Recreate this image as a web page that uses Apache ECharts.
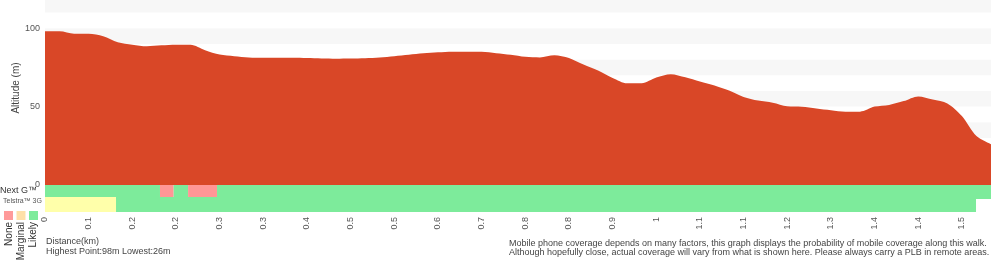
<!DOCTYPE html>
<html>
<head>
<meta charset="utf-8">
<script src="https://cdn.jsdelivr.net/npm/echarts@6/dist/echarts.min.js"></script>
<style>
html,body{margin:0;padding:0;background:#fff;}
#c{width:1000px;height:260px;}
</style>
</head>
<body>
<div id="c"></div>
<script>
// Distance tick labels (km), shown every 3rd profile point
const tickLabels = ['0','0.1','0.2','0.2','0.3','0.3','0.4','0.5','0.5','0.6','0.7','0.8','0.8','0.9','1','1.1','1.1','1.2','1.3','1.4','1.4','1.5'];
// Altitude profile (m)
const altitude = [98,98,96.5,96.5,94.9,91.1,89.5,88.5,89.1,89.5,
  89.4,86.0,83.2,82.2,81.4,81.2,81.2,81.2,81.0,80.7,
  80.6,80.7,80.9,81.3,82.2,83.1,84.0,84.6,85,85,
  85,84.1,83.1,81.8,81.4,82.8,81.0,76.8,73.0,68.3,
  64.9,64.9,68.5,70.7,68.7,66.0,63.5,60.2,56.2,53.9,
  52.5,50.2,49.9,48.8,47.7,46.8,46.8,50.0,51.1,53.5,
  56.5,54.5,52.0,44.0,31.2,26];
// Coverage segments [startIndex, endIndex, level]
const nextG = [[0,7.9,'Likely'],[7.9,8.84,'None'],[8.84,9.83,'Likely'],[9.83,11.82,'None'],[11.82,65,'Likely']];
const telstra3G = [[0,4.88,'Marginal'],[4.88,63.97,'Likely']];
const levels = ['None','Marginal','Likely'];

const bandColors = {None:'#ff9696', Marginal:'#ffffaa', Likely:'#7deb9b'};
const legendColors = {None:'#ff9a9a', Marginal:'#ffe0a8', Likely:'#7deb9b'};
const FONT = 'Liberation Sans, Arial, Helvetica, sans-serif';

const chart = echarts.init(document.getElementById('c'), null, {renderer:'canvas'});
const lastIdx = altitude.length - 1;
const step = 3;
const hi = Math.max(...altitude), lo = Math.min(...altitude);

function rowRender(top, bottom) {
  return function(params, api) {
    const s = api.value(0), e = api.value(1), lvl = levels[api.value(2)];
    const p1 = api.coord([s, top]);
    const p2 = api.coord([e, bottom]);
    return {type:'rect', shape:{x:p1[0], y:p1[1], width:p2[0]-p1[0], height:p2[1]-p1[1]},
      style:{fill: bandColors[lvl]}};
  };
}

const xBase = {type:'value', min:0, max:lastIdx, interval:step,
  axisLine:{show:false}, axisTick:{show:false}, splitLine:{show:false}};

const legendGraphics = [];
levels.forEach((l, i) => {
  legendGraphics.push({type:'rect', shape:{x:4+i*12.5, y:211, width:9, height:9}, style:{fill:legendColors[l]}});
  legendGraphics.push({type:'text', x:9+i*12, y:222, rotation:Math.PI/2,
    style:{text:l, font:'10px '+FONT, fill:'#333', align:'right', verticalAlign:'middle'}});
});

chart.setOption({
  animation:false,
  grid:[
    {left:45, right:9, top:0, height:185},
    {left:45, right:9, top:185, height:27}
  ],
  xAxis:[
    Object.assign({}, xBase, {gridIndex:0, axisLabel:{show:false}}),
    Object.assign({}, xBase, {gridIndex:1, axisLabel:{show:true, rotate:90, margin:5, fontSize:9, color:'#555', fontFamily:FONT,
      formatter:function(v){ const k = v/step; return (Number.isInteger(k) && tickLabels[k]!==undefined) ? tickLabels[k] : ''; }}})
  ],
  yAxis:[
    {type:'value', gridIndex:0, min:0, max:hi+20, interval:10,
      axisLine:{show:false}, axisTick:{show:false}, splitLine:{show:false},
      splitArea:{show:true, areaStyle:{color:['#ffffff','#f7f7f7']}},
      axisLabel:{fontSize:9, color:'#555', margin:5, fontFamily:FONT,
        formatter:function(v){ return v%50===0 ? String(v) : ''; }}},
    {type:'value', gridIndex:1, min:0, max:27, inverse:true, show:false}
  ],
  series:[
    {type:'line', xAxisIndex:0, yAxisIndex:0, data:altitude.map((a,i)=>[i,a]),
      symbol:'none', smooth:0.3, lineStyle:{width:0}, areaStyle:{color:'#d94727', opacity:1}, z:3},
    {type:'custom', xAxisIndex:1, yAxisIndex:1, renderItem:rowRender(0,14),
      data:nextG.map(d=>[d[0],d[1],levels.indexOf(d[2])]), z:2},
    {type:'custom', xAxisIndex:1, yAxisIndex:1, renderItem:rowRender(12,27),
      data:telstra3G.map(d=>[d[0],d[1],levels.indexOf(d[2])]), z:3}
  ],
  graphic:[
    {type:'text', x:16, y:88, rotation:Math.PI/2,
      style:{text:'Altitude (m)', font:'10px '+FONT, fill:'#444', align:'center', verticalAlign:'middle'}},
    {type:'text', x:0, y:191, style:{text:'Next G™', font:'9px '+FONT, fill:'#333', verticalAlign:'middle'}},
    {type:'text', x:3, y:201.5, style:{text:'Telstra™ 3G', font:'7px '+FONT, fill:'#555', verticalAlign:'middle'}},
    {type:'text', x:46, y:241.5, style:{text:'Distance(km)', font:'9px '+FONT, fill:'#444', verticalAlign:'middle'}},
    {type:'text', x:46, y:252, style:{text:'Highest Point:'+hi+'m Lowest:'+lo+'m', font:'9px '+FONT, fill:'#444', verticalAlign:'middle'}},
    {type:'text', x:509, y:244, style:{text:'Mobile phone coverage depends on many factors, this graph displays the probability of mobile coverage along this walk.', font:'9px '+FONT, fill:'#444', verticalAlign:'middle'}},
    {type:'text', x:509, y:253, style:{text:'Although hopefully close, actual coverage will vary from what is shown here. Please always carry a PLB in remote areas.', font:'9px '+FONT, fill:'#444', verticalAlign:'middle'}}
  ].concat(legendGraphics)
});
</script>
</body>
</html>
